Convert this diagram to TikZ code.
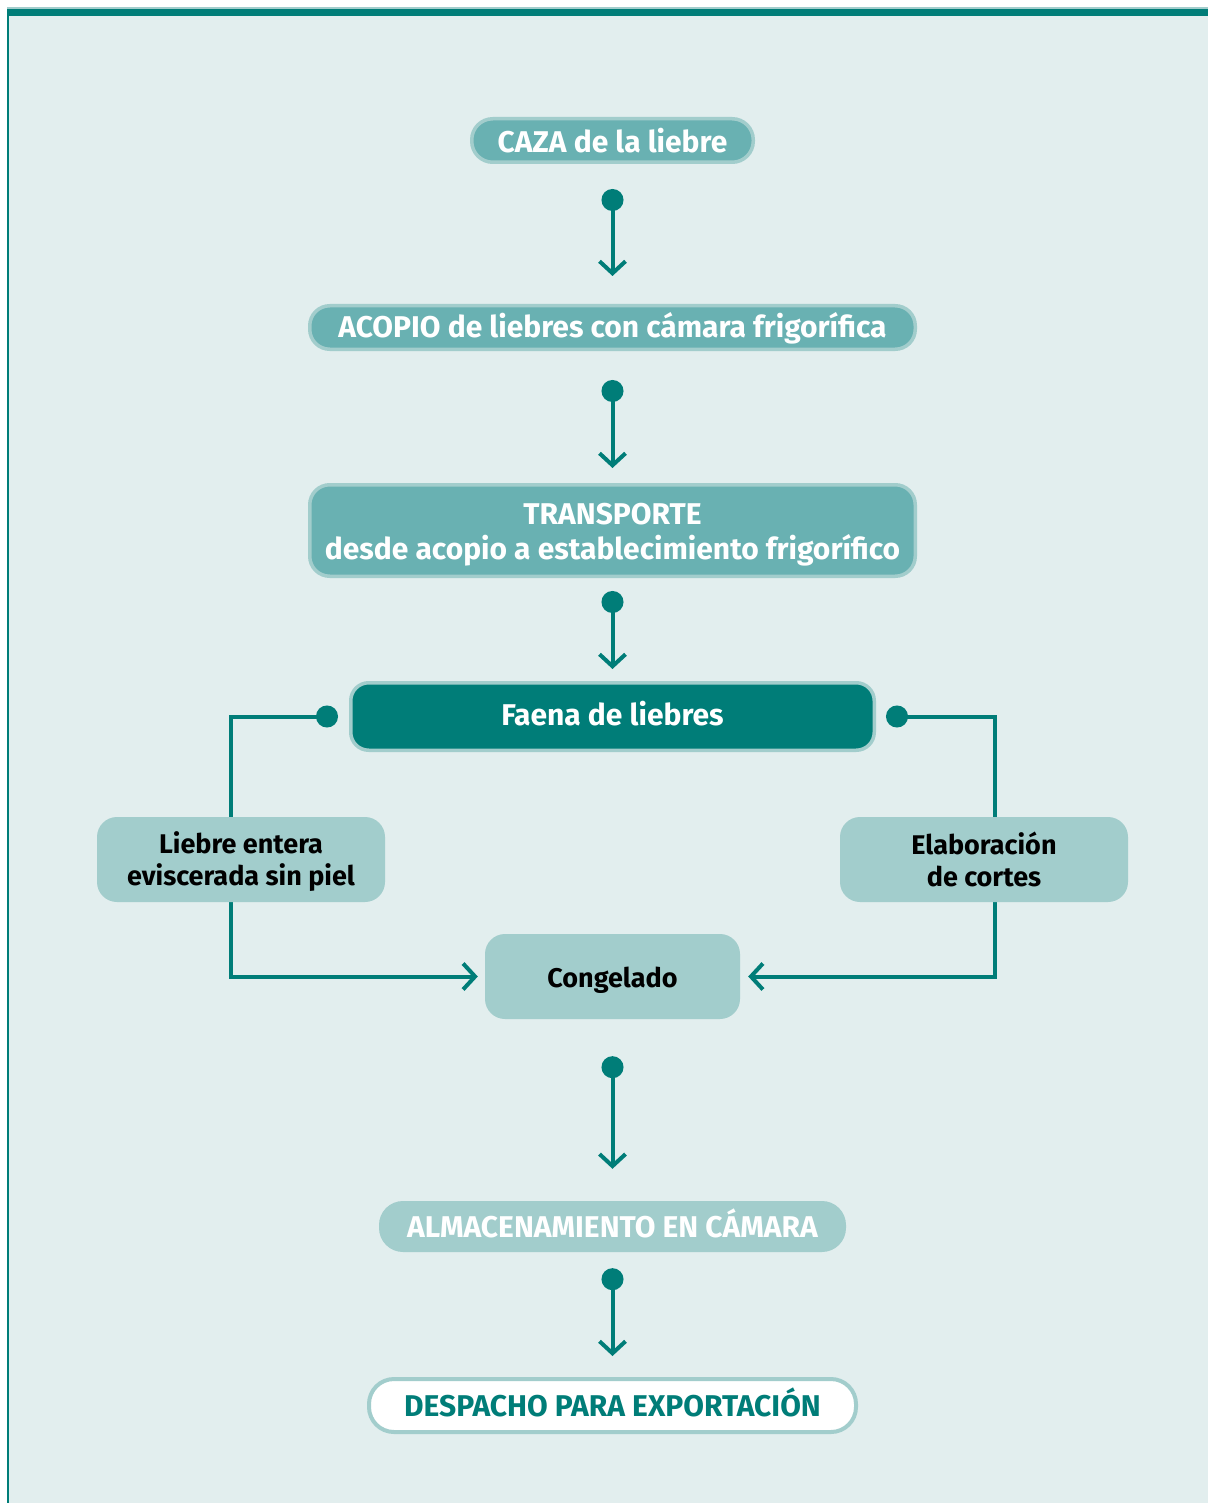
\documentclass[tikz,border=0pt]{standalone}
\usepackage{fontspec}
\newfontfamily\dinfont{Fira Sans}
\usetikzlibrary{arrows.meta}
\definecolor{bgc}{HTML}{E2EEEE}
\definecolor{tealdk}{HTML}{007D78}
\definecolor{tealmd}{HTML}{69B1B2}
\definecolor{teallt}{HTML}{A2CDCC}
\newcommand\mvtext[2]{\raisebox{#1pt}[\height][\depth]{#2}}
\pgfdeclarelayer{bg}
\pgfdeclarelayer{conn}
\pgfsetlayers{bg,conn,main}
\tikzset{
  base/.style={align=center, inner sep=0pt, font=\dinfont\bfseries\fontsize{30}{35}\selectfont},
  midbox/.style={base, fill=tealmd, draw=teallt, line width=3.5pt, text=white},
  darkbox/.style={base, fill=tealdk, draw=teallt, line width=3.5pt, text=white},
  ltbox/.style={base, fill=teallt, text=black, font=\dinfont\bfseries\fontsize{27}{32}\selectfont},
  conn/.style 2 args={draw=tealdk, line width=4pt,
    {Circle[length=22pt]}-{Straight Barb[length=12pt,width=26pt]},
    shorten <=#1pt, shorten >=#2pt},
}
\begin{document}
\begin{tikzpicture}[x=1pt,y=-1pt]
\useasboundingbox (0,0) rectangle (1208,1503);
\begin{pgfonlayer}{bg}
\fill[white] (0,0) rectangle (1208,1503);
\fill[bgc] (8,16) rectangle (1208,1503);
\fill[teallt] (7,7.5) rectangle (1208,9);
\fill[tealdk] (7,9) rectangle (1208,16);
\fill[tealdk] (7,9) rectangle (8.5,1503);
\end{pgfonlayer}

\node[midbox, rounded corners=21pt, minimum width=281.5pt, minimum height=43.5pt] (caza) at (612.5,140.5) {CAZA de la liebre};
\node[midbox, rounded corners=20pt, minimum width=605.5pt, minimum height=43.5pt] (acopio) at (612.5,327.5) {\mvtext{-1}{ACOPIO de liebres con cámara frigorífica}};
\node[midbox, rounded corners=20pt, minimum width=605.5pt, minimum height=91.5pt] (transp) at (612.5,530.5) {\mvtext{-4}{TRANSPORTE}\\\mvtext{-4}{desde acopio a establecimiento frigorífico}};
\node[darkbox, rounded corners=18pt, minimum width=523.5pt, minimum height=67.5pt] (faena) at (612.5,716.5) {\mvtext{2.5}{Faena de liebres}};
\node[ltbox, rounded corners=20pt, minimum width=288pt, minimum height=85pt] (liebre) at (241,859.5) {\mvtext{-2}{Liebre entera}\\\mvtext{-2}{eviscerada sin piel}};
\node[ltbox, rounded corners=20pt, minimum width=288pt, minimum height=85pt] (elab) at (984,859.5) {Elaboración\\de cortes};
\node[ltbox, rounded corners=20pt, minimum width=255pt, minimum height=85pt] (cong) at (612.5,976.5) {\mvtext{-4}{Congelado}};
\node[ltbox, base, fill=teallt, rounded corners=24pt, minimum width=467pt, minimum height=51pt, text=white] (alm) at (612.5,1226.5) {\mvtext{3}{ALMACENAMIENTO EN CÁMARA}};
\node[base, fill=white, draw=teallt, line width=4pt, text=tealdk, rounded corners=25pt, minimum width=487pt, minimum height=53pt] (desp) at (612.5,1405.5) {\mvtext{3}{DESPACHO PARA EXPORTACIÓN}};

\coordinate (lc) at (231,976.5);
\coordinate (rc) at (995,976.5);

\begin{pgfonlayer}{conn}
\draw[conn={25}{28}] (caza.south) -- (acopio.north);
\draw[conn={29}{15}] (acopio.south) -- (transp.north);
\draw[conn={13}{12}] (transp.south) -- (faena.north);
\draw[conn={11}{7}] (faena.west) -| (lc) -- (cong.west);
\draw[conn={10}{8}] (faena.east) -| (rc) -- (cong.east);
\draw[conn={37}{32}] (cong.south) -- (alm.north);
\draw[conn={16}{21}] (alm.south) -- (desp.north);
\end{pgfonlayer}
\end{tikzpicture}
\end{document}
